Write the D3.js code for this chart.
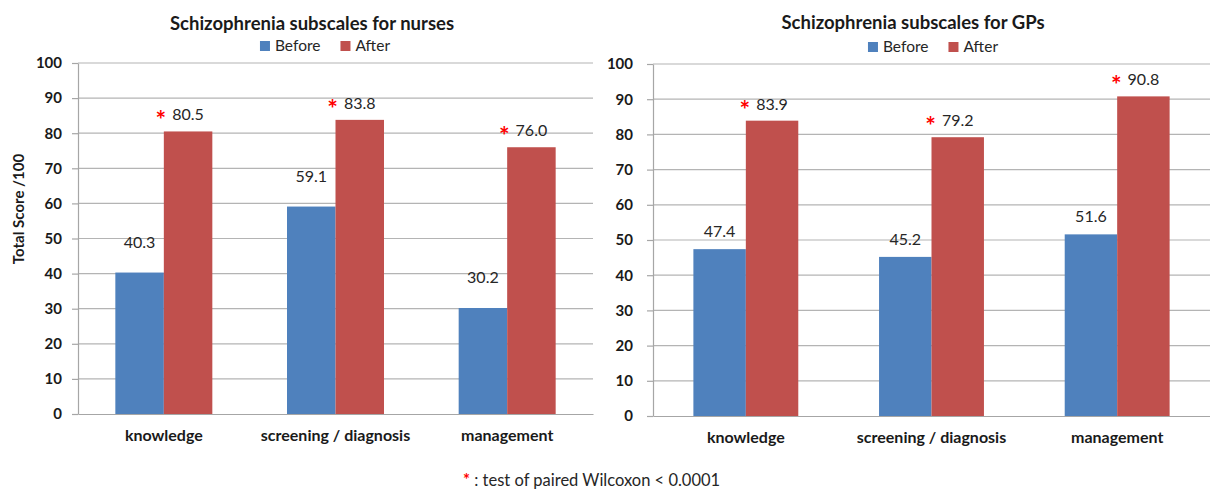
<!DOCTYPE html>
<html>
<head>
<meta charset="utf-8">
<script src="https://cdn.jsdelivr.net/npm/d3@7"></script>
<style>
  body { margin: 0; background: #fff; }
  svg { font-family: Lato, "Open Sans", sans-serif; }
</style>
</head>
<body>
<svg id="chart" width="1210" height="492"></svg>
<script>
// data
var categories = ["knowledge", "screening / diagnosis", "management"];
var seriesNames = ["Before", "After"];
var nursesBefore = [40.3, 59.1, 30.2];
var nursesAfter = [80.5, 83.8, 76.0];
var gpsBefore = [47.4, 45.2, 51.6];
var gpsAfter = [83.9, 79.2, 90.8];
var yTicks = [0, 10, 20, 30, 40, 50, 60, 70, 80, 90, 100];

var colors = { Before: "#4F81BD", After: "#C0504D" };

var svg = d3.select("#chart");

function drawChart(opt) {
    var g = svg.append("g");

    var x0 = d3.scaleBand()
        .domain(categories)
        .range([opt.left, opt.right])
        .paddingInner(0.435)
        .paddingOuter(0.2175);

    var x1 = d3.scaleBand()
        .domain(seriesNames)
        .range([0, x0.bandwidth()]);

    var y = d3.scaleLinear()
        .domain([0, 100])
        .range([opt.bottom, opt.top]);

    // gridlines
    g.selectAll(".grid")
        .data(yTicks.filter(function (d) { return d > 0; }))
        .enter()
        .append("line")
        .attr("x1", opt.left)
        .attr("x2", opt.right)
        .attr("y1", function (d) { return y(d); })
        .attr("y2", function (d) { return y(d); })
        .attr("stroke", "#b4b4b4")
        .attr("stroke-width", 1.2);

    // y axis
    var yAxis = g.append("g")
        .attr("transform", "translate(" + opt.left + ",0)")
        .call(d3.axisLeft(y).tickValues(yTicks).tickSize(6).tickSizeOuter(0).tickPadding(opt.tickPad))
        .attr("font-family", null);
    yAxis.select(".domain").attr("stroke", "#a6a6a6").attr("stroke-width", 1.2);
    yAxis.selectAll(".tick line").attr("stroke", "#a6a6a6").attr("stroke-width", 1.2);
    yAxis.selectAll("text")
        .style("font-size", "15px")
        .style("font-weight", "bold")
        .attr("fill", "#1a1a1a");

    // x axis
    var xAxis = g.append("g")
        .attr("transform", "translate(0," + opt.bottom + ")")
        .call(d3.axisBottom(x0).tickSize(0).tickSizeOuter(0).tickPadding(opt.xPad))
        .attr("font-family", null);
    xAxis.select(".domain").attr("stroke", "#a6a6a6").attr("stroke-width", 1.2);
    xAxis.selectAll("text")
        .style("font-size", "16px")
        .style("font-weight", "bold")
        .attr("fill", "#1a1a1a");

    // bars
    var rows = categories.map(function (c, i) {
        return { cat: c, Before: opt.before[i], After: opt.after[i] };
    });

    var groups = g.selectAll(".grp")
        .data(rows)
        .enter()
        .append("g")
        .attr("transform", function (d) { return "translate(" + x0(d.cat) + ",0)"; });

    groups.selectAll("rect")
        .data(function (d) { return seriesNames.map(function (s) { return { key: s, value: d[s] }; }); })
        .enter()
        .append("rect")
        .attr("x", function (d) { return x1(d.key); })
        .attr("y", function (d) { return y(d.value); })
        .attr("width", x1.bandwidth())
        .attr("height", function (d) { return y(0) - y(d.value); })
        .attr("fill", function (d) { return colors[d.key]; });

    // value labels, with the significance star left of the After value
    groups.each(function (d) {
        var grp = d3.select(this);
        seriesNames.forEach(function (s) {
            var gap = s === "Before" ? opt.beforeGap : opt.afterGap;
            var cx = x1(s) + x1.bandwidth() / 2;
            var t = grp.append("text")
                .attr("x", cx)
                .attr("y", y(d[s]) - gap)
                .attr("text-anchor", "middle")
                .style("font-size", "16px")
                .attr("fill", "#262626")
                .text(d[s].toFixed(1));
            if (s === "After") {
                var w = t.node().getComputedTextLength();
                grp.append("text")
                    .attr("x", cx - w / 2 - 6)
                    .attr("y", y(d[s]) - gap + 9)
                    .attr("text-anchor", "end")
                    .style("font-size", "25px")
                    .style("font-weight", "bold")
                    .attr("fill", "#ff0000")
                    .text("*");
            }
        });
    });

    // title
    g.append("text")
        .attr("x", opt.titleX)
        .attr("y", opt.titleY)
        .attr("text-anchor", "middle")
        .style("font-size", "18.5px")
        .style("font-weight", "bold")
        .attr("fill", "#1a1a1a")
        .text(opt.title);

    // legend, centred on legendX
    var leg = g.append("g");
    var lx = 0;
    seriesNames.forEach(function (s) {
        leg.append("rect")
            .attr("x", lx)
            .attr("y", -10)
            .attr("width", 10)
            .attr("height", 10)
            .attr("fill", colors[s]);
        var t = leg.append("text")
            .attr("x", lx + 15)
            .attr("y", 0)
            .style("font-size", "15.5px")
            .attr("fill", "#262626")
            .text(s);
        lx += 15 + t.node().getComputedTextLength() + 20;
    });
    var lw = lx - 20;
    leg.attr("transform", "translate(" + (opt.legendX - lw / 2) + "," + opt.legendY + ")");

    return g;
}

drawChart({
    left: 78, right: 593, top: 63, bottom: 414,
    before: nursesBefore, after: nursesAfter,
    beforeGap: 25, afterGap: 11,
    tickPad: 10, xPad: 16,
    title: "Schizophrenia subscales for nurses",
    titleX: 312, titleY: 30,
    legendX: 325, legendY: 51
});

drawChart({
    left: 653, right: 1210, top: 64, bottom: 416,
    before: gpsBefore, after: gpsAfter,
    beforeGap: 12, afterGap: 11,
    tickPad: 14, xPad: 16,
    title: "Schizophrenia subscales for GPs",
    titleX: 913, titleY: 29,
    legendX: 933, legendY: 52
});

// y axis title (left chart only)
svg.append("text")
    .attr("transform", "translate(24,209) rotate(-90)")
    .attr("text-anchor", "middle")
    .style("font-size", "15px")
    .style("font-weight", "bold")
    .attr("fill", "#1a1a1a")
    .text("Total Score /100");

// footnote
var foot = svg.append("text")
    .attr("x", 463)
    .attr("y", 486)
    .style("font-size", "16.5px")
    .attr("fill", "#262626");
foot.append("tspan")
    .attr("fill", "#ff0000")
    .style("font-weight", "bold")
    .text("*");
foot.append("tspan")
    .text(" : test of paired Wilcoxon < 0.0001");
</script>
</body>
</html>
